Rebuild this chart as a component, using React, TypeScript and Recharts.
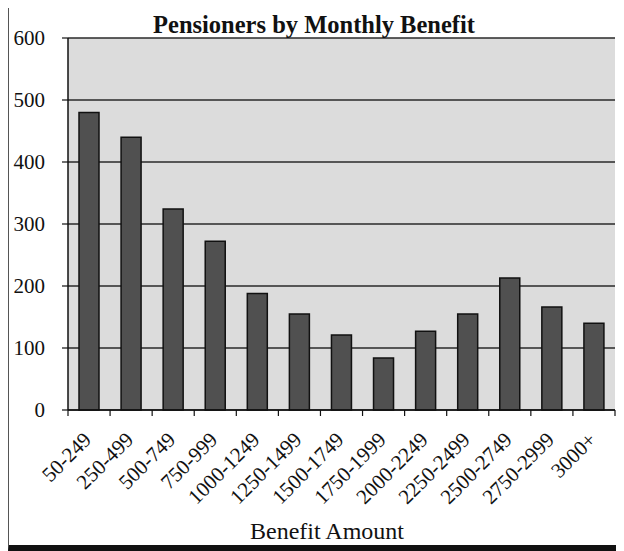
import React from "react";
import { BarChart, Bar, XAxis, YAxis, CartesianGrid } from "recharts";

// Benefit brackets (monthly amount) and number of pensioners in each
const benefitBrackets = [
  "50-249",
  "250-499",
  "500-749",
  "750-999",
  "1000-1249",
  "1250-1499",
  "1500-1749",
  "1750-1999",
  "2000-2249",
  "2250-2499",
  "2500-2749",
  "2750-2999",
  "3000+",
];
const pensionerCounts = [480, 440, 324, 272, 188, 155, 121, 84, 127, 155, 213, 166, 140];
const countTicks = [0, 100, 200, 300, 400, 500, 600];

const data = benefitBrackets.map((bracket, i) => ({ bracket, count: pensionerCounts[i] }));

const FONT = '"Liberation Serif", "Times New Roman", serif';
const CHART_W = 610;
const CHART_H = 535;
const MARGIN = { top: 30, right: 4, left: 0, bottom: 0 };
const Y_AXIS_W = 59;
const BAND = (CHART_W - MARGIN.left - MARGIN.right - Y_AXIS_W) / benefitBrackets.length;

// Category tick: slanted label under the bar, tick mark on the category boundary
const BracketTick = (props: any) => {
  const { x, y, payload, index } = props;
  const ax = x + 3.5;
  const ay = y + 31;
  return (
    <g>
      <line x1={x - BAND / 2} y1={y} x2={x - BAND / 2} y2={y + 6} stroke="#111" strokeWidth={1.2} />
      {index === benefitBrackets.length - 1 && (
        <line x1={x + BAND / 2} y1={y} x2={x + BAND / 2} y2={y + 6} stroke="#111" strokeWidth={1.2} />
      )}
      <text
        x={ax}
        y={ay}
        textAnchor="end"
        transform={`rotate(-45, ${ax}, ${ay})`}
        style={{ fontFamily: FONT, fontSize: 21 }}
        fill="#111"
      >
        {payload.value}
      </text>
    </g>
  );
};

export default function App() {
  return (
    <div
      style={{
        position: "relative",
        width: 612,
        height: 544,
        marginTop: -1,
        boxSizing: "border-box",
        borderTop: "1px solid #555",
        borderLeft: "1px solid #555",
        borderRight: "1px solid #999",
        borderBottom: "6px solid #111",
        background: "#fff",
        fontFamily: FONT,
      }}
    >
      <BarChart width={CHART_W} height={CHART_H} data={data} margin={MARGIN} style={{ fontFamily: FONT }}>
        <CartesianGrid
          vertical={false}
          horizontal={true}
          fill="#dcdcdc"
          fillOpacity={1}
          stroke="#2a2a2a"
          strokeWidth={1.3}
        />
        <XAxis
          dataKey="bracket"
          height={CHART_H - MARGIN.top - 372}
          interval={0}
          tickSize={0}
          tickMargin={0}
          tickLine={false}
          axisLine={{ stroke: "#111", strokeWidth: 1.5 }}
          tick={<BracketTick />}
        />
        <YAxis
          width={Y_AXIS_W}
          domain={[0, 600]}
          ticks={countTicks}
          interval={0}
          tickSize={6}
          tickMargin={17}
          tickLine={{ stroke: "#111", strokeWidth: 1.2 }}
          axisLine={{ stroke: "#111", strokeWidth: 1.5 }}
          tick={{ fontSize: 21, fill: "#111", style: { fontFamily: FONT } }}
        />
        <YAxis
          yAxisId="frame"
          orientation="right"
          width={0}
          domain={[0, 600]}
          tick={false}
          tickLine={false}
          axisLine={{ stroke: "#666", strokeWidth: 1.3 }}
        />
        <Bar
          dataKey="count"
          barSize={20}
          fill="#505050"
          stroke="#111"
          strokeWidth={1.5}
          isAnimationActive={false}
        />
      </BarChart>
      <div
        style={{
          position: "absolute",
          top: 5,
          left: 0,
          width: CHART_W,
          textAlign: "center",
          fontFamily: FONT,
          fontWeight: "bold",
          fontSize: 24.5,
          lineHeight: "24.5px",
          color: "#111",
        }}
      >
        Pensioners by Monthly Benefit
      </div>
      <div
        style={{
          position: "absolute",
          top: 511,
          left: 168,
          width: 300,
          textAlign: "center",
          fontFamily: FONT,
          fontSize: 24,
          lineHeight: "24px",
          color: "#111",
        }}
      >
        Benefit Amount
      </div>
    </div>
  );
}
